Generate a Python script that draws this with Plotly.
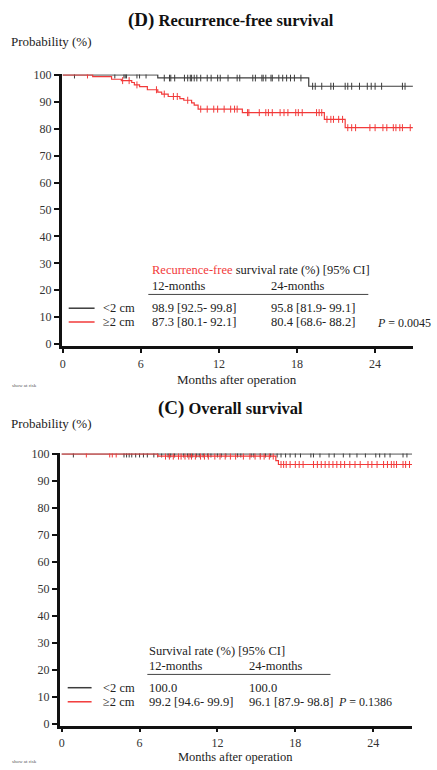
import plotly.graph_objects as go

W, H = 437, 770
FONT = "Liberation Serif, Times New Roman, serif"
BLACK = "#3c3c3c"
RED = "#f23a3a"

# ---------------- data ----------------
# (D) Recurrence-free survival
rfs_lt2_t = [0, 7.3, 18.9, 26.9]
rfs_lt2_s = [100, 98.9, 95.8, 95.8]
rfs_ge2_t = [0, 2.3, 3.75, 4.5, 5.3, 5.5, 5.9, 6.5, 7.3, 7.6, 8.1, 9.0, 9.3, 9.9, 10.1, 10.4, 13.8, 20.1, 21.7, 26.9]
rfs_ge2_s = [100, 99.4, 98.4, 97.9, 97.2, 96.3, 95.7, 94.5, 93.6, 92.9, 92.0, 91.2, 90.6, 89.6, 88.8, 87.3, 86.0, 83.5, 80.4, 80.4]
rfs_lt2_cens = [0.9, 4.0, 4.7, 4.8, 4.9, 5.7, 5.9, 6.4, 7.8, 8.2, 8.3, 8.6, 9.35, 9.6, 9.8, 9.9, 10.1, 10.3,
                10.6, 11.1, 11.4, 11.9, 12.1, 12.7, 13.4, 13.6, 14.6, 14.8, 15.3, 15.4, 15.6, 16.0, 16.1, 16.6,
                16.9, 17.2, 17.5, 17.8, 18.3, 19.2, 19.4, 19.9, 20.6, 20.8, 21.7, 21.9, 22.2, 22.8, 23.4, 23.7,
                24.0, 24.5, 26.1, 26.3]
rfs_ge2_cens = [1.9, 4.6, 5.1, 5.7, 7.2, 7.8, 8.5, 8.8, 9.6, 10.6, 11.1, 11.6, 11.9, 12.4, 12.9, 13.2, 13.4,
                14.2, 14.3, 15.1, 15.6, 15.8, 16.1, 16.7, 17.0, 17.3, 17.9, 18.1, 18.4, 19.5, 19.7, 19.9, 20.3,
                20.6, 20.8, 21.2, 21.5, 21.9, 22.2, 22.5, 23.6, 24.0, 24.6, 24.9, 25.4, 25.6, 25.9, 26.1, 26.7]

# (C) Overall survival
os_lt2_t = [0, 27.0]
os_lt2_s = [100, 100]
os_ge2_t = [0, 7.4, 16.5, 16.7, 27.0]
os_ge2_s = [100, 99.2, 97.5, 96.1, 96.1]
os_lt2_cens = [0.9, 4.8, 5.0, 5.2, 5.4, 5.7, 6.0, 6.3, 6.6, 7.1, 7.4, 7.7, 8.2, 8.4, 8.7, 9.4, 9.7, 9.9, 10.1,
               10.4, 10.6, 10.9, 11.25, 11.5, 12.0, 12.3, 12.65, 13.55, 13.8, 14.6, 14.8, 15.3, 15.7, 16.1,
               16.6, 16.9, 17.25, 17.6, 18.0, 18.4, 19.2, 19.4, 19.9, 20.6, 21.0, 21.7, 22.2, 22.75, 23.4,
               24.2, 24.5, 24.9, 25.3, 26.3, 26.6]
os_ge2_cens = [1.9, 3.7, 3.9, 4.2, 8.0, 8.3, 8.6, 9.0, 9.2, 9.5, 9.8, 10.0, 10.3, 10.7, 11.0, 11.3, 11.8,
               12.2, 12.6, 13.0, 13.4, 14.0, 14.5, 14.9, 15.3, 15.6, 16.0, 16.3, 16.9, 17.1, 17.3, 17.6,
               18.0, 18.3, 18.6, 19.4, 19.7, 20.0, 20.3, 20.6, 20.9, 21.2, 21.5, 21.8, 22.2, 22.6, 23.0,
               23.6, 23.9, 24.3, 24.8, 25.1, 25.4, 25.6, 25.8, 26.3, 26.5, 26.8]

groups = ["<2 cm", "≥2 cm"]
months_ticks = [0, 6, 12, 18, 24]
prob_ticks = [0, 10, 20, 30, 40, 50, 60, 70, 80, 90, 100]
rfs_table = [["98.9 [92.5- 99.8]", "95.8 [81.9- 99.1]"], ["87.3 [80.1- 92.1]", "80.4 [68.6- 88.2]"]]
os_table = [["100.0", "100.0"], ["99.2 [94.6- 99.9]", "96.1 [87.9- 98.8]"]]
rfs_p = "0.0045"
os_p = "0.1386"


def X(px):
    return px / W


def Y(py):
    return 1 - py / H


def surv_at(ts, ss, t):
    v = ss[0]
    for ti, si in zip(ts, ss):
        if t >= ti:
            v = si
    return v


fig = go.Figure()


def add_curves(ts, ss, cens, color, xa, ya):
    fig.add_trace(go.Scatter(x=ts, y=ss, mode="lines", line=dict(color=color, width=1.2, shape="hv"),
                             xaxis=xa, yaxis=ya, showlegend=False, hoverinfo="skip"))
    fig.add_trace(go.Scatter(x=cens, y=[surv_at(ts, ss, c) for c in cens], mode="markers",
                             marker=dict(symbol="line-ns", size=5, line=dict(color=color, width=1)),
                             xaxis=xa, yaxis=ya, showlegend=False, hoverinfo="skip"))


add_curves(rfs_lt2_t, rfs_lt2_s, rfs_lt2_cens, BLACK, "x", "y")
add_curves(rfs_ge2_t, rfs_ge2_s, rfs_ge2_cens, RED, "x", "y")
add_curves(os_lt2_t, os_lt2_s, os_lt2_cens, BLACK, "x2", "y2")
add_curves(os_ge2_t, os_ge2_s, os_ge2_cens, RED, "x2", "y2")

axis_common = dict(showline=True, linecolor="#111", linewidth=2.5, ticks="outside",
                   tickwidth=1.5, tickcolor="#111", showgrid=False, zeroline=False,
                   tickfont=dict(family=FONT, size=12, color="#333"))

fig.update_layout(
    width=W, height=H, autosize=False,
    margin=dict(l=0, r=0, t=0, b=0),
    paper_bgcolor="white", plot_bgcolor="white",
    font=dict(family=FONT, color="#222"),
    xaxis=dict(domain=[X(60), X(413)], range=[-0.08, 26.92], tickvals=months_ticks, anchor="y",
               ticklen=5, **axis_common),
    yaxis=dict(domain=[Y(345), Y(69.5)], range=[-0.6, 100.2], tickvals=prob_ticks, anchor="x",
               ticklen=5, **axis_common),
    xaxis2=dict(domain=[X(58), X(412)], range=[-0.15, 27.0], tickvals=months_ticks, anchor="y2",
                ticklen=4, **axis_common),
    yaxis2=dict(domain=[Y(731), Y(454.5)], range=[-0.7, 100.2], tickvals=prob_ticks, anchor="x2",
                ticklen=5, **axis_common),
)

ann = []
shapes = []


def txt(x, y, text, size=12.5, xanchor="left", color="#222"):
    ann.append(dict(x=X(x), y=Y(y), xref="paper", yref="paper", text=text, showarrow=False,
                    xanchor=xanchor, yanchor="middle", font=dict(family=FONT, size=size, color=color)))


# ---- top panel texts
txt(230, 14, "<b><span style='font-size:19px'>(D)</span> Recurrence-free survival</b>", size=16.5, xanchor="center", color="#111")
txt(7, 36, "Probability (%)", size=13)
txt(236, 379, "Months after operation", size=13, xanchor="center")
txt(149, 268, f"<span style='color:{RED}'>Recurrence-free</span> survival rate (%) [95% CI]")
txt(149, 284, "12-months")
txt(268, 284, "24-months")
shapes.append(dict(type="line", xref="paper", yref="paper", x0=X(147), x1=X(368), y0=Y(293), y1=Y(293),
                   line=dict(color="#444", width=1)))
for i, (g, col) in enumerate(zip(groups, [BLACK, RED])):
    yy = 307 + i * 14
    shapes.append(dict(type="line", xref="paper", yref="paper", x0=X(67), x1=X(93), y0=Y(yy), y1=Y(yy),
                       line=dict(color=col, width=1.5)))
    txt(99, yy, g.replace("<", "&lt;"))
    txt(149, yy, rfs_table[i][0])
    txt(268, yy, rfs_table[i][1])
txt(375, 322, f"<i>P</i> = {rfs_p}", size=12)
txt(8, 385, "show at risk", size=5, color="#555")

# ---- bottom panel texts
txt(230, 408, "<b><span style='font-size:19px'>(C)</span> Overall survival</b>", size=16.5, xanchor="center", color="#111")
txt(7, 424, "Probability (%)", size=13)
txt(235, 763, "Months after operation", size=12.5, xanchor="center")
txt(146, 655, "Survival rate (%) [95% CI]")
txt(146, 670, "12-months")
txt(246, 670, "24-months")
shapes.append(dict(type="line", xref="paper", yref="paper", x0=X(146), x1=X(330), y0=Y(679), y1=Y(679),
                   line=dict(color="#444", width=1)))
for i, (g, col) in enumerate(zip(groups, [BLACK, RED])):
    yy = 692.5 + i * 14.3
    shapes.append(dict(type="line", xref="paper", yref="paper", x0=X(66), x1=X(90), y0=Y(yy), y1=Y(yy),
                       line=dict(color=col, width=1.5)))
    txt(99, yy, g.replace("<", "&lt;"))
    txt(146, yy, os_table[i][0])
    txt(246, yy, os_table[i][1])
txt(336, 707, f"<i>P</i> = {os_p}", size=12)
txt(8, 767, "show at risk", size=5, color="#555")

fig.update_layout(annotations=ann, shapes=shapes)
fig.write_html("out.html", config={"displayModeBar": False},
               post_script="document.body.style.margin='0px';document.body.style.overflow='hidden';")
